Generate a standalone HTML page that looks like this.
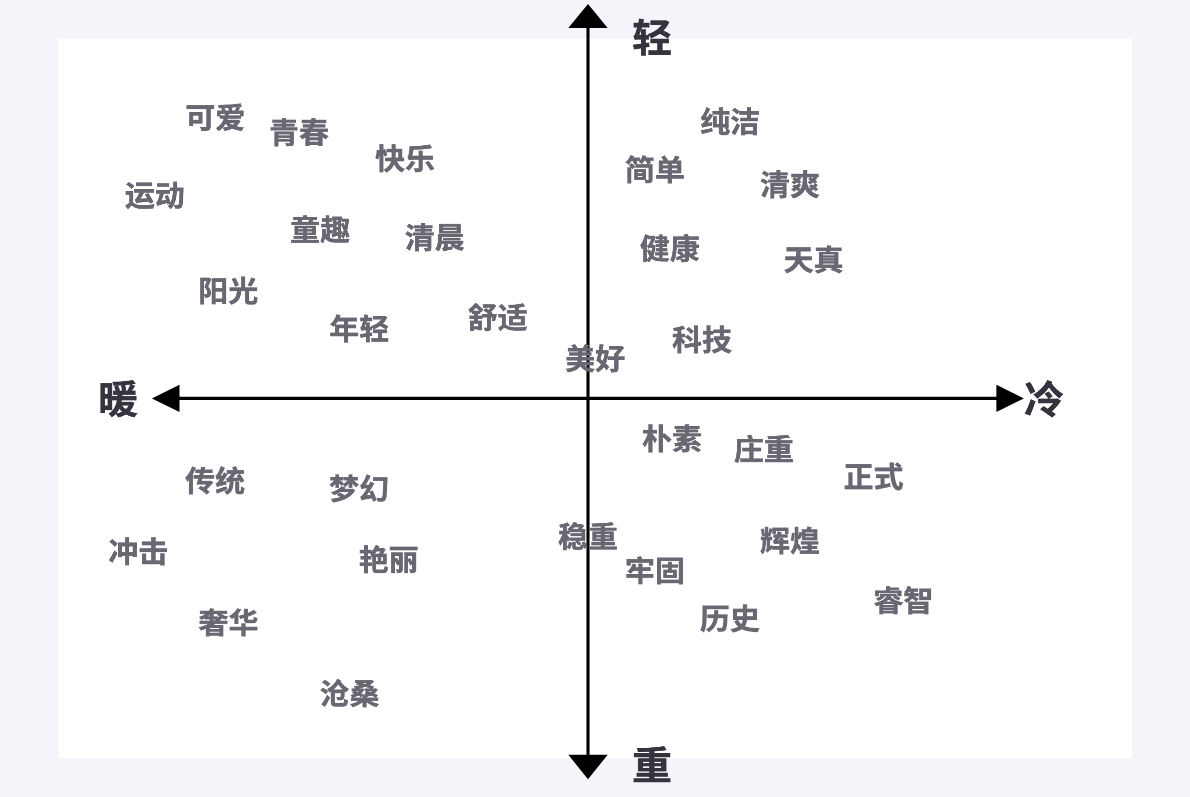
<!DOCTYPE html>
<html lang="zh-CN">
<head>
<meta charset="utf-8">
<title>色彩意象坐标图</title>
<style>
html,body{margin:0;padding:0;}
body{width:1190px;height:797px;overflow:hidden;background:#f4f5fa;position:relative;font-family:"Liberation Sans","Noto Sans CJK SC",sans-serif;}
.chart{position:absolute;left:0;top:0;width:1190px;height:797px;display:block;}
.words{position:absolute;left:0;top:0;width:1190px;height:797px;}
.w,.a{position:absolute;left:0;top:0;margin:0;white-space:nowrap;transform-origin:0 0;will-change:transform;}
.w{font-weight:700;font-size:60px;line-height:60px;color:#696772;-webkit-text-stroke:0.9px #696772;}
.a{font-weight:700;font-size:80px;line-height:80px;color:#35333e;-webkit-text-stroke:0.8px #35333e;}
</style>
</head>
<body>
<svg class="chart" width="1190" height="797" viewBox="0 0 1190 797">
<rect x="58" y="38.7" width="1074" height="719.5" fill="#ffffff"/>
<line x1="588.0" y1="27" x2="588.0" y2="755.8" stroke="#000" stroke-width="3.1"/>
<line x1="178.5" y1="398.4" x2="997.4" y2="398.4" stroke="#000" stroke-width="3.1"/>
<polygon points="588.0,3.9 568.3,28.0 607.7,28.0" fill="#000"/>
<polygon points="588.0,779.2 568.3,754.8 607.7,754.8" fill="#000"/>
<polygon points="151.85,398.4 179.5,384.7 179.5,412.1" fill="#000"/>
<polygon points="1023.9,398.4 996.4,384.7 996.4,412.1" fill="#000"/>
</svg>
<div class="words">
<div class="a" style="transform:translate(632.09px,19.1px) scale(0.5,0.4875)">轻</div>
<div class="a" style="transform:translate(631.98px,746.77px) scale(0.5,0.4875)">重</div>
<div class="a" style="transform:translate(98.02px,380.6px) scale(0.5,0.4875)">暖</div>
<div class="a" style="transform:translate(1024.17px,380.81px) scale(0.5,0.4875)">冷</div>
<div class="w" style="transform:translate(185.29px,103.97px) scale(0.5,0.485)">可爱</div>
<div class="w" style="transform:translate(269.03px,119.07px) scale(0.5,0.485)">青春</div>
<div class="w" style="transform:translate(124.81px,181.97px) scale(0.5,0.485)">运动</div>
<div class="w" style="transform:translate(375.02px,145.23px) scale(0.5,0.485)">快乐</div>
<div class="w" style="transform:translate(290.21px,216.28px) scale(0.5,0.485)">童趣</div>
<div class="w" style="transform:translate(404.7px,224.05px) scale(0.5,0.485)">清晨</div>
<div class="w" style="transform:translate(198.31px,277.39px) scale(0.5,0.485)">阳光</div>
<div class="w" style="transform:translate(329.31px,315.38px) scale(0.5,0.485)">年轻</div>
<div class="w" style="transform:translate(467.63px,304.16px) scale(0.5,0.485)">舒适</div>
<div class="w" style="transform:translate(565.16px,345.24px) scale(0.5,0.485)">美好</div>
<div class="w" style="transform:translate(700.21px,108.26px) scale(0.5,0.485)">纯洁</div>
<div class="w" style="transform:translate(624.9px,156.34px) scale(0.5,0.485)">简单</div>
<div class="w" style="transform:translate(759.88px,171.12px) scale(0.5,0.485)">清爽</div>
<div class="w" style="transform:translate(639.8px,235.1px) scale(0.5,0.485)">健康</div>
<div class="w" style="transform:translate(783.62px,246.32px) scale(0.5,0.485)">天真</div>
<div class="w" style="transform:translate(672.01px,326.32px) scale(0.5,0.485)">科技</div>
<div class="w" style="transform:translate(642.03px,425.28px) scale(0.5,0.485)">朴素</div>
<div class="w" style="transform:translate(733.79px,435.81px) scale(0.5,0.485)">庄重</div>
<div class="w" style="transform:translate(843.52px,463.32px) scale(0.5,0.485)">正式</div>
<div class="w" style="transform:translate(557.93px,523.2px) scale(0.5,0.485)">稳重</div>
<div class="w" style="transform:translate(759.91px,527.32px) scale(0.5,0.485)">辉煌</div>
<div class="w" style="transform:translate(624.89px,557.23px) scale(0.5,0.485)">牢固</div>
<div class="w" style="transform:translate(699.88px,605.27px) scale(0.5,0.485)">历史</div>
<div class="w" style="transform:translate(873.33px,587.27px) scale(0.5,0.485)">睿智</div>
<div class="w" style="transform:translate(185.02px,467.33px) scale(0.5,0.485)">传统</div>
<div class="w" style="transform:translate(329.05px,475.33px) scale(0.5,0.485)">梦幻</div>
<div class="w" style="transform:translate(108.28px,538.25px) scale(0.5,0.485)">冲击</div>
<div class="w" style="transform:translate(358.61px,546.17px) scale(0.5,0.485)">艳丽</div>
<div class="w" style="transform:translate(198.49px,609.31px) scale(0.5,0.485)">奢华</div>
<div class="w" style="transform:translate(319.56px,680.29px) scale(0.5,0.485)">沧桑</div>
</div>
</body>
</html>
